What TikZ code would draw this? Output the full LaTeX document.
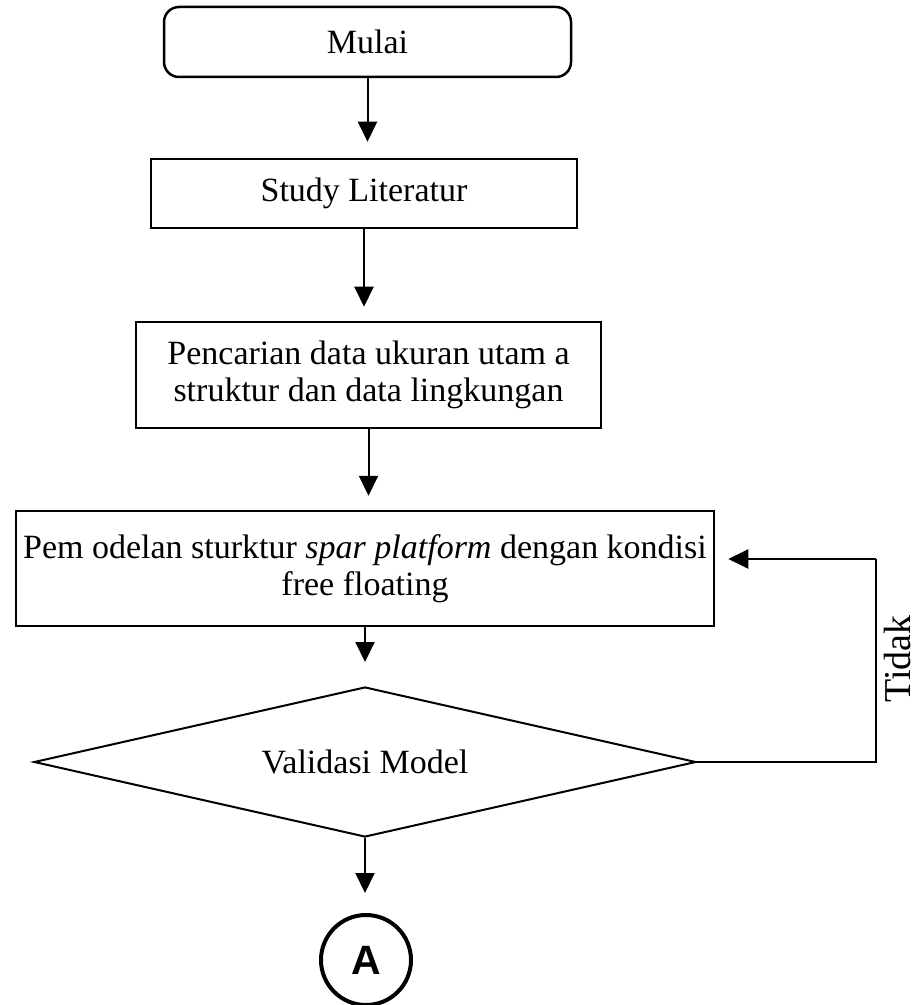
\documentclass[tikz,border=0pt]{standalone}
\usepackage{fontspec}
\setmainfont{Liberation Serif}
\newfontfamily\sansA{Liberation Sans}
\usetikzlibrary{shapes.geometric,arrows.meta}
\begin{document}
\begin{tikzpicture}[x=0.5pt,y=-0.5pt,
  every node/.style={font=\fontsize{17pt}{18.5pt}\selectfont},
  boxstyle/.style={draw, line width=1.25pt, inner sep=0pt, align=center},
  conn/.style={line width=1pt, -{Triangle[length=10pt,width=9.5pt]}},
  plain/.style={line width=1pt}]
\useasboundingbox (0,0) rectangle (916,1005);
\node[boxstyle, rounded corners=7.5pt, minimum width=203.5pt, minimum height=35pt] (mulai) at (367.5,42) {Mulai};
\node[boxstyle, minimum width=213pt, minimum height=34.5pt] (study) at (364,193.5) {Study Literatur};
\node[boxstyle, minimum width=232.5pt, minimum height=53pt] (cari) at (368.5,375) {Pencarian data ukuran utam a\\struktur dan data lingkungan};
\node[boxstyle, minimum width=349pt, minimum height=57.5pt] (model) at (365,568.5) {Pem odelan sturktur \textit{spar platform} dengan kondisi\\free floating};
\node[draw, diamond, aspect=4.4, line width=1pt, inner sep=0pt, minimum width=331pt, minimum height=75pt] (valid) at (365,762) {Validasi Model};
\node[draw, circle, line width=2pt, inner sep=0pt, minimum size=45pt, font=\sansA\bfseries\fontsize{20.5pt}{22pt}\selectfont] (circA) at (366,960) {A};
\coordinate (corner) at (876,559);
\node[rotate=90, anchor=base, font=\fontsize{19pt}{21pt}\selectfont, inner sep=0pt] (tidak) at (910,659) {Tidak};
\draw[conn, shorten >=8pt] (mulai.south) -- (mulai.south |- study.north);
\draw[conn, shorten >=7pt] (study.south) -- (study.south |- cari.north);
\draw[conn, shorten >=7pt] (cari.south) -- (cari.south |- model.north);
\draw[conn, shorten >=12pt] (model.south) -- (valid.north);
\draw[conn, shorten >=10pt] (valid.south) -- (valid.south |- circA.north);
\draw[plain] (valid.east) -| (corner);
\draw[conn, shorten >=6.5pt] (corner) -- (model.east |- corner);
\end{tikzpicture}
\end{document}
